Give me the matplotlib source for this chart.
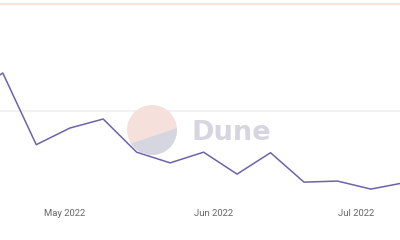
import matplotlib
matplotlib.use('Agg')
import matplotlib.pyplot as plt
import matplotlib.dates as mdates
from matplotlib.patches import Circle, Polygon
import numpy as np
import pandas as pd


# weekly values (no y labels in the picture, scale is estimated)
weeks = pd.date_range('2022-04-11', '2022-07-11', freq='7D')
values = [23.0, 27.1, 13.7, 16.8, 18.5, 12.3, 10.3, 12.3, 8.2, 12.2, 6.7, 6.9, 5.4, 6.6]

grid_values = [20, 40]
grid_colors = ['#f0f0f0', '#f7ddd6']
month_ticks = pd.to_datetime(['2022-05-01', '2022-06-01', '2022-07-01'])

color_line = '#6b64a8'


fig = plt.figure(figsize=(4, 2.4), dpi=100)
fig.patch.set_facecolor('white')
ax = fig.add_axes([0, 40/240., 1, 200/240.])

for val, col in zip(grid_values, grid_colors):
    ax.axhline(val, color=col, lw=1.3, zorder=0)

ax.plot(weeks, values, '-', color=color_line, lw=1.1, zorder=3)

ax.set_xlim(pd.Timestamp('2022-04-17 10:00'), pd.Timestamp('2022-07-10 02:00'))
ax.set_ylim(3.36, 40.75)

ax.set_xticks(month_ticks)
ax.xaxis.set_major_formatter(mdates.DateFormatter('%b %Y'))
ax.tick_params(axis='x', length=0, pad=6.5, labelsize=6.8, labelcolor='#666666')
for lab in ax.get_xticklabels():
    lab.set_fontfamily('Roboto')
ax.set_yticks([])
for sp in ax.spines.values():
    sp.set_visible(False)

# Dune watermark
ax_logo = fig.add_axes([127/400., 85/240., 50/400., 50/240.])
ax_logo.set_xlim(-1, 1)
ax_logo.set_ylim(-1, 1)
ax_logo.axis('off')
circ = Circle((0, 0), 1, facecolor='#f5e0db', edgecolor='none')
ax_logo.add_patch(circ)
low = Polygon([(-1.1, -0.63), (1.1, 0.11), (1.1, -1.1), (-1.1, -1.1)],
              facecolor='#d6d6e0', edgecolor='none')
ax_logo.add_patch(low)
low.set_clip_path(circ)

fig.text(192/400., 100/240., 'Dune', fontsize=19.6, weight='bold',
         color='#d6d6e0', va='baseline', ha='left')

plt.savefig('out.png', dpi=100, facecolor='w')
